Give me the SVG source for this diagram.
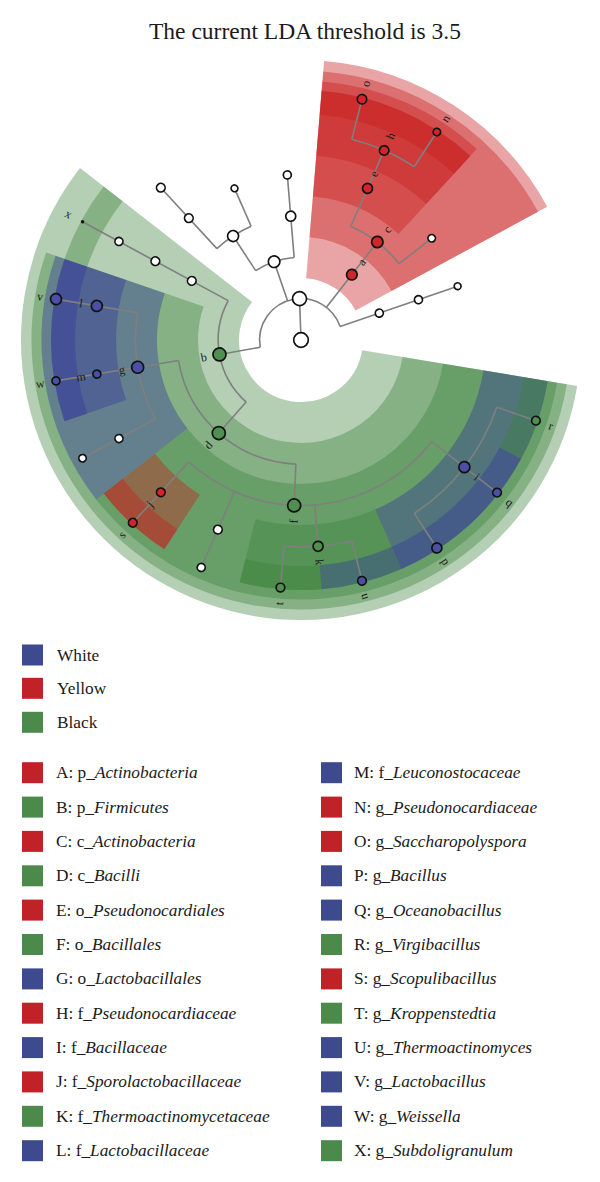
<svg xmlns="http://www.w3.org/2000/svg" width="600" height="1182" viewBox="0 0 600 1182">
<style>
text{font-family:"Liberation Serif","Times New Roman",serif;fill:#1a1a1a}
.title{font-size:23.5px}
.leg{font-size:17.3px}
.it{font-style:italic}
.wd{fill:none}
.wG{stroke:#3a823a;stroke-opacity:.38}
.wB{stroke:#32379a;stroke-opacity:.4}
.wR{stroke:#c81e1e;stroke-opacity:.4}
.ph{stroke-width:218px}
.cl{stroke-width:166.5px}
.or{stroke-width:115.5px}
.fa{stroke-width:65px}
.ge{stroke-width:24px}
.edge{fill:none;stroke:#7f7f7f;stroke-width:1.6}
.n{stroke:#111;stroke-width:1.7}
.w{fill:#fff}
.g{fill:#4f8f4f}
.b{fill:#4b50a6}
.r{fill:#d0262b}
.lb{font-size:12px}
.sqB{fill:#3d4a8e}
.sqR{fill:#c02228}
.sqG{fill:#4b8a4b}
</style>

<text class="title" x="305" y="39" text-anchor="middle">The current LDA threshold is 3.5</text>

<g id="highlights">
  <circle class="wd wG ph" cx="301" cy="340" r="171" pathLength="360" stroke-dasharray="208.42 400" transform="rotate(9.47 301 340)"/>
  <circle class="wd wR ph" cx="301" cy="340" r="171" pathLength="360" stroke-dasharray="56.84 400" transform="rotate(274.74 301 340)"/>
  <circle class="wd wG cl" cx="301" cy="340" r="186.25" pathLength="360" stroke-dasharray="189.48 400" transform="rotate(9.47 301 340)"/>
  <circle class="wd wR cl" cx="301" cy="340" r="186.25" pathLength="360" stroke-dasharray="56.84 400" transform="rotate(274.74 301 340)"/>
  <circle class="wd wG or" cx="301" cy="340" r="201.75" pathLength="360" stroke-dasharray="132.63 400" transform="rotate(9.47 301 340)"/>
  <circle class="wd wB or" cx="301" cy="340" r="201.75" pathLength="360" stroke-dasharray="56.85 400" transform="rotate(142.1 301 340)"/>
  <circle class="wd wR or" cx="301" cy="340" r="201.75" pathLength="360" stroke-dasharray="37.89 400" transform="rotate(274.74 301 340)"/>
  <circle class="wd wG fa" cx="301" cy="340" r="217.5" pathLength="360" stroke-dasharray="37.89 400" transform="rotate(66.32 301 340)"/>
  <circle class="wd wB fa" cx="301" cy="340" r="217.5" pathLength="360" stroke-dasharray="56.85 400" transform="rotate(9.47 301 340)"/>
  <circle class="wd wB fa" cx="301" cy="340" r="217.5" pathLength="360" stroke-dasharray="18.95 400" transform="rotate(180 301 340)"/>
  <circle class="wd wB fa" cx="301" cy="340" r="217.5" pathLength="360" stroke-dasharray="18.95 400" transform="rotate(161.05 301 340)"/>
  <circle class="wd wR fa" cx="301" cy="340" r="217.5" pathLength="360" stroke-dasharray="37.89 400" transform="rotate(274.74 301 340)"/>
  <circle class="wd wR fa" cx="301" cy="340" r="217.5" pathLength="360" stroke-dasharray="18.95 400" transform="rotate(123.16 301 340)"/>
  <circle class="wd wG ge" cx="301" cy="340" r="238" pathLength="360" stroke-dasharray="18.95 400" transform="rotate(9.47 301 340)"/>
  <circle class="wd wG ge" cx="301" cy="340" r="238" pathLength="360" stroke-dasharray="18.95 400" transform="rotate(85.26 301 340)"/>
  <circle class="wd wG ge" cx="301" cy="340" r="238" pathLength="360" stroke-dasharray="18.95 400" transform="rotate(198.95 301 340)"/>
  <circle class="wd wB ge" cx="301" cy="340" r="238" pathLength="360" stroke-dasharray="18.95 400" transform="rotate(47.37 301 340)"/>
  <circle class="wd wB ge" cx="301" cy="340" r="238" pathLength="360" stroke-dasharray="18.95 400" transform="rotate(28.42 301 340)"/>
  <circle class="wd wB ge" cx="301" cy="340" r="238" pathLength="360" stroke-dasharray="18.95 400" transform="rotate(66.32 301 340)"/>
  <circle class="wd wB ge" cx="301" cy="340" r="238" pathLength="360" stroke-dasharray="18.95 400" transform="rotate(180 301 340)"/>
  <circle class="wd wB ge" cx="301" cy="340" r="238" pathLength="360" stroke-dasharray="18.95 400" transform="rotate(161.05 301 340)"/>
  <circle class="wd wR ge" cx="301" cy="340" r="238" pathLength="360" stroke-dasharray="18.95 400" transform="rotate(293.68 301 340)"/>
  <circle class="wd wR ge" cx="301" cy="340" r="238" pathLength="360" stroke-dasharray="18.95 400" transform="rotate(274.74 301 340)"/>
  <circle class="wd wR ge" cx="301" cy="340" r="238" pathLength="360" stroke-dasharray="18.95 400" transform="rotate(123.16 301 340)"/>
</g>

<g id="connectors" class="edge">
  <circle cx="301" cy="340" r="41.4" pathLength="360" stroke-dasharray="171.11 400" transform="rotate(169.94 301 340)"/>
  <circle cx="301" cy="340" r="82.8" pathLength="360" stroke-dasharray="76.97 400" transform="rotate(131.45 301 340)"/>
  <circle cx="301" cy="340" r="82.8" pathLength="360" stroke-dasharray="28.42 400" transform="rotate(236.84 301 340)"/>
  <circle cx="301" cy="340" r="124.2" pathLength="360" stroke-dasharray="78.16 400" transform="rotate(92.37 301 340)"/>
  <circle cx="301" cy="340" r="124.2" pathLength="360" stroke-dasharray="18.95 400" transform="rotate(227.37 301 340)"/>
  <circle cx="301" cy="340" r="124.2" pathLength="360" stroke-dasharray="28.43 400" transform="rotate(293.68 301 340)"/>
  <circle cx="301" cy="340" r="165.6" pathLength="360" stroke-dasharray="94.74 400" transform="rotate(37.89 301 340)"/>
  <circle cx="301" cy="340" r="165.6" pathLength="360" stroke-dasharray="37.89 400" transform="rotate(151.58 301 340)"/>
  <circle cx="301" cy="340" r="207" pathLength="360" stroke-dasharray="37.89 400" transform="rotate(18.95 301 340)"/>
  <circle cx="301" cy="340" r="207" pathLength="360" stroke-dasharray="18.95 400" transform="rotate(75.79 301 340)"/>
  <circle cx="301" cy="340" r="207" pathLength="360" stroke-dasharray="18.95 400" transform="rotate(284.21 301 340)"/>
  <line x1="301" y1="340" x2="342.4" y2="340" transform="rotate(268 301 340)"/>
  <line x1="342.4" y1="340" x2="383.8" y2="340" transform="rotate(169.94 301 340)"/>
  <line x1="342.4" y1="340" x2="383.8" y2="340" transform="rotate(251.05 301 340)"/>
  <line x1="342.4" y1="340" x2="425.2" y2="340" transform="rotate(307.9 301 340)"/>
  <line x1="342.4" y1="340" x2="466.6" y2="340" transform="rotate(341.05 301 340)"/>
  <line x1="383.8" y1="340" x2="549.4" y2="340" transform="rotate(208.42 301 340)"/>
  <line x1="383.8" y1="340" x2="425.2" y2="340" transform="rotate(131.45 301 340)"/>
  <line x1="383.8" y1="340" x2="425.2" y2="340" transform="rotate(236.84 301 340)"/>
  <line x1="383.8" y1="340" x2="466.6" y2="340" transform="rotate(265.26 301 340)"/>
  <line x1="425.2" y1="340" x2="508" y2="340" transform="rotate(227.37 301 340)"/>
  <line x1="425.2" y1="340" x2="466.6" y2="340" transform="rotate(246.32 301 340)"/>
  <line x1="425.2" y1="340" x2="508" y2="340" transform="rotate(293.68 301 340)"/>
  <line x1="425.2" y1="340" x2="466.6" y2="340" transform="rotate(322.11 301 340)"/>
  <line x1="425.2" y1="340" x2="466.6" y2="340" transform="rotate(92.37 301 340)"/>
  <line x1="425.2" y1="340" x2="466.6" y2="340" transform="rotate(170.53 301 340)"/>
  <line x1="466.6" y1="340" x2="549.4" y2="340" transform="rotate(37.89 301 340)"/>
  <line x1="466.6" y1="340" x2="508" y2="340" transform="rotate(85.26 301 340)"/>
  <line x1="466.6" y1="340" x2="549.4" y2="340" transform="rotate(113.68 301 340)"/>
  <line x1="466.6" y1="340" x2="549.4" y2="340" transform="rotate(132.63 301 340)"/>
  <line x1="466.6" y1="340" x2="549.4" y2="340" transform="rotate(151.58 301 340)"/>
  <line x1="466.6" y1="340" x2="549.4" y2="340" transform="rotate(170.53 301 340)"/>
  <line x1="466.6" y1="340" x2="549.4" y2="340" transform="rotate(189.47 301 340)"/>
  <line x1="508" y1="340" x2="549.4" y2="340" transform="rotate(284.21 301 340)"/>
  <line x1="508" y1="340" x2="549.4" y2="340" transform="rotate(303.16 301 340)"/>
  <line x1="508" y1="340" x2="549.4" y2="340" transform="rotate(18.95 301 340)"/>
  <line x1="508" y1="340" x2="549.4" y2="340" transform="rotate(56.84 301 340)"/>
  <line x1="508" y1="340" x2="549.4" y2="340" transform="rotate(75.79 301 340)"/>
  <line x1="508" y1="340" x2="549.4" y2="340" transform="rotate(94.74 301 340)"/>
</g>

<g id="nodes">
  <g id="node-root"><circle class="n w" cx="301" cy="340" r="7.3"/></g>
  <g id="node-kingdom" transform="rotate(268 301 340)"><circle class="n w" cx="342.4" cy="340" r="7"/></g>
  <g id="node-b" transform="rotate(169.94 301 340)"><circle class="n g" cx="383.8" cy="340" r="6.5"/><text class="lb" x="399.8" y="340" text-anchor="middle" dominant-baseline="central" transform="rotate(180 399.8 340)">b</text></g>
  <g id="node-p1" transform="rotate(251.05 301 340)"><circle class="n w" cx="383.8" cy="340" r="5.8"/></g>
  <g id="node-a" transform="rotate(307.9 301 340)"><circle class="n r" cx="383.8" cy="340" r="5.3"/><text class="lb" x="399.8" y="340" text-anchor="middle" dominant-baseline="central">a</text></g>
  <g id="node-p2" transform="rotate(341.05 301 340)"><circle class="n w" cx="383.8" cy="340" r="4"/></g>
  <g id="node-clos-c" transform="rotate(208.42 301 340)"><circle class="n w" cx="425.2" cy="340" r="4.3"/></g>
  <g id="node-c2" transform="rotate(236.84 301 340)"><circle class="n w" cx="425.2" cy="340" r="5.5"/></g>
  <g id="node-c1" transform="rotate(265.26 301 340)"><circle class="n w" cx="425.2" cy="340" r="5"/></g>
  <g id="node-c" transform="rotate(307.9 301 340)"><circle class="n r" cx="425.2" cy="340" r="5.7"/><text class="lb" x="441.2" y="340" text-anchor="middle" dominant-baseline="central">c</text></g>
  <g id="node-p2c" transform="rotate(341.05 301 340)"><circle class="n w" cx="425.2" cy="340" r="4"/></g>
  <g id="node-d" transform="rotate(131.45 301 340)"><circle class="n g" cx="425.2" cy="340" r="6.5"/><text class="lb" x="441.2" y="340" text-anchor="middle" dominant-baseline="central" transform="rotate(180 441.2 340)">d</text></g>
  <g id="node-clos-o" transform="rotate(208.42 301 340)"><circle class="n w" cx="466.6" cy="340" r="4.3"/></g>
  <g id="node-o227" transform="rotate(227.37 301 340)"><circle class="n w" cx="466.6" cy="340" r="4.3"/></g>
  <g id="node-o246" transform="rotate(246.32 301 340)"><circle class="n w" cx="466.6" cy="340" r="3.4"/></g>
  <g id="node-o265" transform="rotate(265.26 301 340)"><circle class="n w" cx="466.6" cy="340" r="4"/></g>
  <g id="node-e" transform="rotate(293.68 301 340)"><circle class="n r" cx="466.6" cy="340" r="5"/><text class="lb" x="482.6" y="340" text-anchor="middle" dominant-baseline="central">e</text></g>
  <g id="node-o322" transform="rotate(322.11 301 340)"><circle class="n w" cx="466.6" cy="340" r="3.7"/></g>
  <g id="node-o341" transform="rotate(341.05 301 340)"><circle class="n w" cx="466.6" cy="340" r="3.4"/></g>
  <g id="node-f" transform="rotate(92.37 301 340)"><circle class="n g" cx="466.6" cy="340" r="6.5"/><text class="lb" x="482.6" y="340" text-anchor="middle" dominant-baseline="central" transform="rotate(180 482.6 340)">f</text></g>
  <g id="node-g" transform="rotate(170.53 301 340)"><circle class="n b" cx="466.6" cy="340" r="6"/><text class="lb" x="482.6" y="340" text-anchor="middle" dominant-baseline="central" transform="rotate(180 482.6 340)">g</text></g>
  <g id="node-clos-f" transform="rotate(208.42 301 340)"><circle class="n w" cx="508" cy="340" r="4"/></g>
  <g id="node-f227" transform="rotate(227.37 301 340)"><circle class="n w" cx="508" cy="340" r="4.3"/></g>
  <g id="node-h" transform="rotate(293.68 301 340)"><circle class="n r" cx="508" cy="340" r="4.7"/><text class="lb" x="524" y="340" text-anchor="middle" dominant-baseline="central">h</text></g>
  <g id="node-i" transform="rotate(37.89 301 340)"><circle class="n b" cx="508" cy="340" r="5.5"/><text class="lb" x="524" y="340" text-anchor="middle" dominant-baseline="central">i</text></g>
  <g id="node-k" transform="rotate(85.26 301 340)"><circle class="n g" cx="508" cy="340" r="5"/><text class="lb" x="524" y="340" text-anchor="middle" dominant-baseline="central">k</text></g>
  <g id="node-wf" transform="rotate(113.68 301 340)"><circle class="n w" cx="508" cy="340" r="4.3"/></g>
  <g id="node-j" transform="rotate(132.63 301 340)"><circle class="n r" cx="508" cy="340" r="4.3"/><text class="lb" x="524" y="340" text-anchor="middle" dominant-baseline="central" transform="rotate(180 524 340)">j</text></g>
  <g id="node-wgf" transform="rotate(151.58 301 340)"><circle class="n w" cx="508" cy="340" r="4"/></g>
  <g id="node-m" transform="rotate(170.53 301 340)"><circle class="n b" cx="508" cy="340" r="4"/><text class="lb" x="524" y="340" text-anchor="middle" dominant-baseline="central" transform="rotate(180 524 340)">m</text></g>
  <g id="node-l" transform="rotate(189.47 301 340)"><circle class="n b" cx="508" cy="340" r="5.5"/><text class="lb" x="524" y="340" text-anchor="middle" dominant-baseline="central" transform="rotate(180 524 340)">l</text></g>
  <g id="node-x" transform="rotate(208.42 301 340)"><circle cx="549.4" cy="340" r="1.7" fill="#111"/><text class="lb" x="565.4" y="340" text-anchor="middle" dominant-baseline="central" transform="rotate(180 565.4 340)">x</text></g>
  <g id="node-o" transform="rotate(284.21 301 340)"><circle class="n r" cx="549.4" cy="340" r="4.7"/><text class="lb" x="565.4" y="340" text-anchor="middle" dominant-baseline="central">o</text></g>
  <g id="node-n" transform="rotate(303.16 301 340)"><circle class="n r" cx="549.4" cy="340" r="3.7"/><text class="lb" x="565.4" y="340" text-anchor="middle" dominant-baseline="central">n</text></g>
  <g id="node-r" transform="rotate(18.95 301 340)"><circle class="n g" cx="549.4" cy="340" r="4.3"/><text class="lb" x="565.4" y="340" text-anchor="middle" dominant-baseline="central">r</text></g>
  <g id="node-q" transform="rotate(37.89 301 340)"><circle class="n b" cx="549.4" cy="340" r="4.3"/><text class="lb" x="565.4" y="340" text-anchor="middle" dominant-baseline="central">q</text></g>
  <g id="node-p" transform="rotate(56.84 301 340)"><circle class="n b" cx="549.4" cy="340" r="5"/><text class="lb" x="565.4" y="340" text-anchor="middle" dominant-baseline="central">p</text></g>
  <g id="node-u" transform="rotate(75.79 301 340)"><circle class="n b" cx="549.4" cy="340" r="4.3"/><text class="lb" x="565.4" y="340" text-anchor="middle" dominant-baseline="central">u</text></g>
  <g id="node-t" transform="rotate(94.74 301 340)"><circle class="n g" cx="549.4" cy="340" r="4.3"/><text class="lb" x="565.4" y="340" text-anchor="middle" dominant-baseline="central" transform="rotate(180 565.4 340)">t</text></g>
  <g id="node-wfg" transform="rotate(113.68 301 340)"><circle class="n w" cx="549.4" cy="340" r="4"/></g>
  <g id="node-s" transform="rotate(132.63 301 340)"><circle class="n r" cx="549.4" cy="340" r="4.3"/><text class="lb" x="565.4" y="340" text-anchor="middle" dominant-baseline="central" transform="rotate(180 565.4 340)">s</text></g>
  <g id="node-wgg" transform="rotate(151.58 301 340)"><circle class="n w" cx="549.4" cy="340" r="3.7"/></g>
  <g id="node-w" transform="rotate(170.53 301 340)"><circle class="n b" cx="549.4" cy="340" r="4"/><text class="lb" x="565.4" y="340" text-anchor="middle" dominant-baseline="central" transform="rotate(180 565.4 340)">w</text></g>
  <g id="node-v" transform="rotate(189.47 301 340)"><circle class="n b" cx="549.4" cy="340" r="5.5"/><text class="lb" x="565.4" y="340" text-anchor="middle" dominant-baseline="central" transform="rotate(180 565.4 340)">v</text></g>
</g>

<g id="legend-groups">
  <rect class="sqB" x="22" y="644.5" width="21" height="21"/><text class="leg" x="57" y="660.5">White</text>
  <rect class="sqR" x="22" y="677.8" width="21" height="21"/><text class="leg" x="57" y="693.8">Yellow</text>
  <rect class="sqG" x="22" y="711.8" width="21" height="21"/><text class="leg" x="57" y="727.8">Black</text>
</g>

<g id="legend-clades">
  <rect class="sqR" x="22" y="762.2" width="21" height="21"/><text class="leg" x="56" y="778.2">A: p_<tspan class="it">Actinobacteria</tspan></text>
  <rect class="sqG" x="22" y="796.6" width="21" height="21"/><text class="leg" x="56" y="812.6">B: p_<tspan class="it">Firmicutes</tspan></text>
  <rect class="sqR" x="22" y="830.9" width="21" height="21"/><text class="leg" x="56" y="846.9">C: c_<tspan class="it">Actinobacteria</tspan></text>
  <rect class="sqG" x="22" y="865.3" width="21" height="21"/><text class="leg" x="56" y="881.3">D: c_<tspan class="it">Bacilli</tspan></text>
  <rect class="sqR" x="22" y="899.6" width="21" height="21"/><text class="leg" x="56" y="915.6">E: o_<tspan class="it">Pseudonocardiales</tspan></text>
  <rect class="sqG" x="22" y="934" width="21" height="21"/><text class="leg" x="56" y="950">F: o_<tspan class="it">Bacillales</tspan></text>
  <rect class="sqB" x="22" y="968.4" width="21" height="21"/><text class="leg" x="56" y="984.4">G: o_<tspan class="it">Lactobacillales</tspan></text>
  <rect class="sqR" x="22" y="1002.7" width="21" height="21"/><text class="leg" x="56" y="1018.7">H: f_<tspan class="it">Pseudonocardiaceae</tspan></text>
  <rect class="sqB" x="22" y="1037.1" width="21" height="21"/><text class="leg" x="56" y="1053.1">I: f_<tspan class="it">Bacillaceae</tspan></text>
  <rect class="sqR" x="22" y="1071.4" width="21" height="21"/><text class="leg" x="56" y="1087.4">J: f_<tspan class="it">Sporolactobacillaceae</tspan></text>
  <rect class="sqG" x="22" y="1105.8" width="21" height="21"/><text class="leg" x="56" y="1121.8">K: f_<tspan class="it">Thermoactinomycetaceae</tspan></text>
  <rect class="sqB" x="22" y="1140.2" width="21" height="21"/><text class="leg" x="56" y="1156.2">L: f_<tspan class="it">Lactobacillaceae</tspan></text>

  <rect class="sqB" x="321" y="762.2" width="21" height="21"/><text class="leg" x="354" y="778.2">M: f_<tspan class="it">Leuconostocaceae</tspan></text>
  <rect class="sqR" x="321" y="796.6" width="21" height="21"/><text class="leg" x="354" y="812.6">N: g_<tspan class="it">Pseudonocardiaceae</tspan></text>
  <rect class="sqR" x="321" y="830.9" width="21" height="21"/><text class="leg" x="354" y="846.9">O: g_<tspan class="it">Saccharopolyspora</tspan></text>
  <rect class="sqB" x="321" y="865.3" width="21" height="21"/><text class="leg" x="354" y="881.3">P: g_<tspan class="it">Bacillus</tspan></text>
  <rect class="sqB" x="321" y="899.6" width="21" height="21"/><text class="leg" x="354" y="915.6">Q: g_<tspan class="it">Oceanobacillus</tspan></text>
  <rect class="sqG" x="321" y="934" width="21" height="21"/><text class="leg" x="354" y="950">R: g_<tspan class="it">Virgibacillus</tspan></text>
  <rect class="sqR" x="321" y="968.4" width="21" height="21"/><text class="leg" x="354" y="984.4">S: g_<tspan class="it">Scopulibacillus</tspan></text>
  <rect class="sqG" x="321" y="1002.7" width="21" height="21"/><text class="leg" x="354" y="1018.7">T: g_<tspan class="it">Kroppenstedtia</tspan></text>
  <rect class="sqB" x="321" y="1037.1" width="21" height="21"/><text class="leg" x="354" y="1053.1">U: g_<tspan class="it">Thermoactinomyces</tspan></text>
  <rect class="sqB" x="321" y="1071.4" width="21" height="21"/><text class="leg" x="354" y="1087.4">V: g_<tspan class="it">Lactobacillus</tspan></text>
  <rect class="sqB" x="321" y="1105.8" width="21" height="21"/><text class="leg" x="354" y="1121.8">W: g_<tspan class="it">Weissella</tspan></text>
  <rect class="sqG" x="321" y="1140.2" width="21" height="21"/><text class="leg" x="354" y="1156.2">X: g_<tspan class="it">Subdoligranulum</tspan></text>
</g>
</svg>
